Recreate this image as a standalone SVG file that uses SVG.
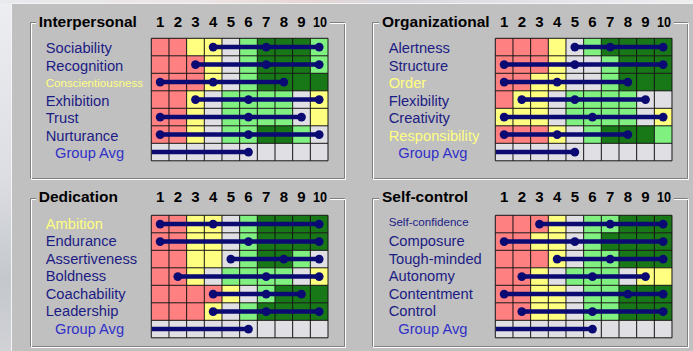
<svg xmlns="http://www.w3.org/2000/svg" width="693" height="351" viewBox="0 0 693 351">
<defs>
<linearGradient id="leftStrip" x1="0" y1="0" x2="0" y2="1">
<stop offset="0" stop-color="#eceef2"/>
<stop offset="0.5" stop-color="#dcdee3"/>
<stop offset="0.8" stop-color="#c4c7cc"/>
<stop offset="1" stop-color="#d0d2d6"/>
</linearGradient>
<linearGradient id="topStrip" x1="0" y1="0" x2="1" y2="0">
<stop offset="0" stop-color="#e8eaee"/>
<stop offset="0.3" stop-color="#ece4e4"/>
<stop offset="0.45" stop-color="#e6d6d6"/>
<stop offset="0.55" stop-color="#d8d8dc"/>
<stop offset="1" stop-color="#eceef0"/>
</linearGradient>
<path id="gridlines" d="M0,0V122.5M17.67,0V122.5M35.34,0V122.5M53.01,0V122.5M70.68,0V122.5M88.35,0V122.5M106.02,0V122.5M123.69,0V122.5M141.36,0V122.5M159.03,0V122.5M176.7,0V122.5M0,0H176.7M0,17.5H176.7M0,35H176.7M0,52.5H176.7M0,70H176.7M0,87.5H176.7M0,105H176.7M0,122.5H176.7"/>
<style>
.R{fill:#ff8080}.Y{fill:#ffff80}.G{fill:#e0e0e4}.L{fill:#80f080}.D{fill:#187818}
.grid{fill:none;stroke:#141414;stroke-width:1}
.etchd{fill:none;stroke:#808080;stroke-width:1}
.etchl{fill:none;stroke:#ffffff;stroke-width:1}
.title{font-family:"Liberation Sans",Arial,sans-serif;font-weight:bold;font-size:15.5px;fill:#000}
.num{font-family:"Liberation Sans",Arial,sans-serif;font-weight:bold;font-size:15px;fill:#000;text-anchor:middle}
.lbl{font-family:"Liberation Sans",Arial,sans-serif;font-size:14.7px;fill:#1c1c84}
.ylw{fill:#ffff80}
.small{font-size:11.6px}
.avg{fill:#3030c8}
.bar{fill:none;stroke:#0a0a72;stroke-width:4.5}
.dot{fill:#0a0a72}
</style>
</defs>

<!-- background -->
<rect x="0" y="0" width="693" height="351" fill="url(#leftStrip)"/>
<rect x="0" y="0" width="693" height="3.5" fill="url(#topStrip)"/>
<rect x="11" y="3" width="682" height="348" fill="#c0c0c0"/>
<path d="M11.5,351V3.5H693" fill="none" stroke="#f4f4f4" stroke-width="1"/>

<!-- Interpersonal panel -->
<g id="interpersonal">
<path class="etchd" d="M36,22.5H30.5V178.5H344.5V22.5H330"/>
<path class="etchl" d="M36,23.5H31.5V179.5H345.5V23.5H330"/>
<text class="title" x="38.7" y="26.7">Interpersonal</text>
<g>
<text class="num" x="160.1" y="26.7">1</text><text class="num" x="177.8" y="26.7">2</text><text class="num" x="195.5" y="26.7">3</text><text class="num" x="213.1" y="26.7">4</text><text class="num" x="230.8" y="26.7">5</text><text class="num" x="248.5" y="26.7">6</text><text class="num" x="266.1" y="26.7">7</text><text class="num" x="283.8" y="26.7">8</text><text class="num" x="301.5" y="26.7">9</text><text class="num" x="320" y="26.7" textLength="14" lengthAdjust="spacingAndGlyphs">10</text>
</g>
<text class="lbl" x="45.7" y="53.3">Sociability</text>
<text class="lbl" x="45.7" y="70.7">Recognition</text>
<text class="lbl ylw small" x="45.7" y="86.8">Conscientiousness</text>
<text class="lbl" x="45.7" y="105.5">Exhibition</text>
<text class="lbl" x="45.7" y="123">Trust</text>
<text class="lbl" x="45.7" y="140.5">Nurturance</text>
<text class="lbl avg" x="55" y="158">Group Avg</text>
<g transform="translate(151.3,38.3)">
<rect class="G" x="0" y="0" width="176.7" height="122.5"/>
<rect class="R" x="0" y="0" width="35.34" height="17.5"/><rect class="Y" x="35.34" y="0" width="35.34" height="17.5"/><rect class="L" x="88.35" y="0" width="17.67" height="17.5"/><rect class="D" x="106.02" y="0" width="53.01" height="17.5"/><rect class="L" x="159.03" y="0" width="17.67" height="17.5"/>
<rect class="R" x="0" y="17.5" width="53.01" height="17.5"/><rect class="Y" x="53.01" y="17.5" width="17.67" height="17.5"/><rect class="L" x="88.35" y="17.5" width="17.67" height="17.5"/><rect class="D" x="106.02" y="17.5" width="53.01" height="17.5"/><rect class="L" x="159.03" y="17.5" width="17.67" height="17.5"/>
<rect class="R" x="0" y="35" width="53.01" height="17.5"/><rect class="Y" x="53.01" y="35" width="17.67" height="17.5"/><rect class="L" x="88.35" y="35" width="17.67" height="17.5"/><rect class="D" x="106.02" y="35" width="70.68" height="17.5"/>
<rect class="R" x="0" y="52.5" width="35.34" height="17.5"/><rect class="Y" x="35.34" y="52.5" width="17.67" height="17.5"/><rect class="L" x="70.68" y="52.5" width="70.68" height="17.5"/><rect class="Y" x="159.03" y="52.5" width="17.67" height="17.5"/>
<rect class="R" x="0" y="70" width="35.34" height="17.5"/><rect class="Y" x="35.34" y="70" width="17.67" height="17.5"/><rect class="L" x="70.68" y="70" width="70.68" height="17.5"/><rect class="Y" x="159.03" y="70" width="17.67" height="17.5"/>
<rect class="R" x="0" y="87.5" width="35.34" height="17.5"/><rect class="Y" x="35.34" y="87.5" width="17.67" height="17.5"/><rect class="L" x="70.68" y="87.5" width="35.34" height="17.5"/><rect class="D" x="106.02" y="87.5" width="35.34" height="17.5"/><rect class="L" x="141.36" y="87.5" width="17.67" height="17.5"/>
<use href="#gridlines" class="grid"/>
</g>
</g>

<!-- Organizational panel -->
<g id="organizational">
<path class="etchd" d="M379,22.5H372.5V178.5H687.5V22.5H674"/>
<path class="etchl" d="M379,23.5H373.5V179.5H688.5V23.5H674"/>
<text class="title" x="382" y="26.7">Organizational</text>
<g>
<text class="num" x="504.1" y="26.7">1</text><text class="num" x="521.8" y="26.7">2</text><text class="num" x="539.5" y="26.7">3</text><text class="num" x="557.1" y="26.7">4</text><text class="num" x="574.8" y="26.7">5</text><text class="num" x="592.5" y="26.7">6</text><text class="num" x="610.1" y="26.7">7</text><text class="num" x="627.8" y="26.7">8</text><text class="num" x="645.5" y="26.7">9</text><text class="num" x="664" y="26.7" textLength="14" lengthAdjust="spacingAndGlyphs">10</text>
</g>
<text class="lbl" x="388.7" y="53.3">Alertness</text>
<text class="lbl" x="388.7" y="70.7">Structure</text>
<text class="lbl ylw" x="388.7" y="87.8">Order</text>
<text class="lbl" x="388.7" y="105.5">Flexibility</text>
<text class="lbl" x="388.7" y="123">Creativity</text>
<text class="lbl ylw" x="388.7" y="140.5">Responsibility</text>
<text class="lbl avg" x="398.3" y="158">Group Avg</text>
<g transform="translate(495.3,38.3)">
<rect class="G" x="0" y="0" width="176.7" height="122.5"/>
<rect class="R" x="0" y="0" width="53.01" height="17.5"/><rect class="Y" x="53.01" y="0" width="17.67" height="17.5"/><rect class="L" x="88.35" y="0" width="17.67" height="17.5"/><rect class="D" x="106.02" y="0" width="70.68" height="17.5"/>
<rect class="R" x="0" y="17.5" width="53.01" height="17.5"/><rect class="Y" x="53.01" y="17.5" width="17.67" height="17.5"/><rect class="L" x="106.02" y="17.5" width="17.67" height="17.5"/><rect class="D" x="123.69" y="17.5" width="53.01" height="17.5"/>
<rect class="R" x="0" y="35" width="35.34" height="17.5"/><rect class="Y" x="35.34" y="35" width="35.34" height="17.5"/><rect class="L" x="106.02" y="35" width="17.67" height="17.5"/><rect class="D" x="123.69" y="35" width="53.01" height="17.5"/>
<rect class="R" x="0" y="52.5" width="17.67" height="17.5"/><rect class="Y" x="17.67" y="52.5" width="35.34" height="17.5"/><rect class="L" x="70.68" y="52.5" width="70.68" height="17.5"/>
<rect class="Y" x="0" y="70" width="53.01" height="17.5"/><rect class="L" x="70.68" y="70" width="70.68" height="17.5"/><rect class="Y" x="159.03" y="70" width="17.67" height="17.5"/>
<rect class="R" x="0" y="87.5" width="53.01" height="17.5"/><rect class="Y" x="53.01" y="87.5" width="17.67" height="17.5"/><rect class="L" x="88.35" y="87.5" width="17.67" height="17.5"/><rect class="D" x="106.02" y="87.5" width="53.01" height="17.5"/><rect class="L" x="159.03" y="87.5" width="17.67" height="17.5"/>
<use href="#gridlines" class="grid"/>
</g>
</g>

<!-- Dedication panel -->
<g id="dedication">
<path class="etchd" d="M36,198.5H30.5V346.5H344.5V198.5H330"/>
<path class="etchl" d="M36,199.5H31.5V347.5H345.5V199.5H330"/>
<text class="title" x="38.7" y="202.3">Dedication</text>
<g>
<text class="num" x="160.1" y="202.3">1</text><text class="num" x="177.8" y="202.3">2</text><text class="num" x="195.5" y="202.3">3</text><text class="num" x="213.1" y="202.3">4</text><text class="num" x="230.8" y="202.3">5</text><text class="num" x="248.5" y="202.3">6</text><text class="num" x="266.1" y="202.3">7</text><text class="num" x="283.8" y="202.3">8</text><text class="num" x="301.5" y="202.3">9</text><text class="num" x="320" y="202.3" textLength="14" lengthAdjust="spacingAndGlyphs">10</text>
</g>
<text class="lbl ylw" x="45.7" y="228.5">Ambition</text>
<text class="lbl" x="45.7" y="246">Endurance</text>
<text class="lbl" x="45.7" y="263.5">Assertiveness</text>
<text class="lbl" x="45.7" y="281">Boldness</text>
<text class="lbl" x="45.7" y="298.5">Coachability</text>
<text class="lbl" x="45.7" y="316">Leadership</text>
<text class="lbl avg" x="55" y="333.5">Group Avg</text>
<g transform="translate(151.3,215.3)">
<rect class="G" x="0" y="0" width="176.7" height="122.5"/>
<rect class="R" x="0" y="0" width="35.34" height="17.5"/><rect class="Y" x="35.34" y="0" width="35.34" height="17.5"/><rect class="L" x="88.35" y="0" width="17.67" height="17.5"/><rect class="D" x="106.02" y="0" width="70.68" height="17.5"/>
<rect class="R" x="0" y="17.5" width="35.34" height="17.5"/><rect class="Y" x="35.34" y="17.5" width="35.34" height="17.5"/><rect class="L" x="88.35" y="17.5" width="17.67" height="17.5"/><rect class="D" x="106.02" y="17.5" width="70.68" height="17.5"/>
<rect class="R" x="0" y="35" width="35.34" height="17.5"/><rect class="Y" x="35.34" y="35" width="35.34" height="17.5"/><rect class="L" x="88.35" y="35" width="17.67" height="17.5"/><rect class="D" x="106.02" y="35" width="35.34" height="17.5"/><rect class="L" x="141.36" y="35" width="17.67" height="17.5"/>
<rect class="R" x="0" y="52.5" width="35.34" height="17.5"/><rect class="Y" x="35.34" y="52.5" width="17.67" height="17.5"/><rect class="L" x="70.68" y="52.5" width="70.68" height="17.5"/><rect class="Y" x="159.03" y="52.5" width="17.67" height="17.5"/>
<rect class="R" x="0" y="70" width="70.68" height="17.5"/><rect class="Y" x="70.68" y="70" width="17.67" height="17.5"/><rect class="L" x="106.02" y="70" width="17.67" height="17.5"/><rect class="D" x="123.69" y="70" width="53.01" height="17.5"/>
<rect class="R" x="0" y="87.5" width="53.01" height="17.5"/><rect class="Y" x="53.01" y="87.5" width="17.67" height="17.5"/><rect class="L" x="88.35" y="87.5" width="17.67" height="17.5"/><rect class="D" x="106.02" y="87.5" width="70.68" height="17.5"/>
<use href="#gridlines" class="grid"/>
</g>
</g>

<!-- Self-control panel -->
<g id="self-control">
<path class="etchd" d="M379,198.5H372.5V346.5H687.5V198.5H674"/>
<path class="etchl" d="M379,199.5H373.5V347.5H688.5V199.5H674"/>
<text class="title" x="382" y="202.3">Self-control</text>
<g>
<text class="num" x="504.1" y="202.3">1</text><text class="num" x="521.8" y="202.3">2</text><text class="num" x="539.5" y="202.3">3</text><text class="num" x="557.1" y="202.3">4</text><text class="num" x="574.8" y="202.3">5</text><text class="num" x="592.5" y="202.3">6</text><text class="num" x="610.1" y="202.3">7</text><text class="num" x="627.8" y="202.3">8</text><text class="num" x="645.5" y="202.3">9</text><text class="num" x="664" y="202.3" textLength="14" lengthAdjust="spacingAndGlyphs">10</text>
</g>
<text class="lbl small" x="388.7" y="226">Self-confidence</text>
<text class="lbl" x="388.7" y="246">Composure</text>
<text class="lbl" x="388.7" y="263.5">Tough-minded</text>
<text class="lbl" x="388.7" y="281">Autonomy</text>
<text class="lbl" x="388.7" y="298.5">Contentment</text>
<text class="lbl" x="388.7" y="316">Control</text>
<text class="lbl avg" x="398.3" y="333.5">Group Avg</text>
<g transform="translate(495.3,215.3)">
<rect class="G" x="0" y="0" width="176.7" height="122.5"/>
<rect class="R" x="0" y="0" width="53.01" height="17.5"/><rect class="Y" x="53.01" y="0" width="17.67" height="17.5"/><rect class="L" x="88.35" y="0" width="35.34" height="17.5"/><rect class="D" x="123.69" y="0" width="53.01" height="17.5"/>
<rect class="R" x="0" y="17.5" width="35.34" height="17.5"/><rect class="Y" x="35.34" y="17.5" width="35.34" height="17.5"/><rect class="L" x="88.35" y="17.5" width="17.67" height="17.5"/><rect class="D" x="106.02" y="17.5" width="70.68" height="17.5"/>
<rect class="R" x="0" y="35" width="53.01" height="17.5"/><rect class="Y" x="53.01" y="35" width="17.67" height="17.5"/><rect class="L" x="88.35" y="35" width="35.34" height="17.5"/><rect class="D" x="123.69" y="35" width="53.01" height="17.5"/>
<rect class="R" x="0" y="52.5" width="35.34" height="17.5"/><rect class="Y" x="35.34" y="52.5" width="17.67" height="17.5"/><rect class="L" x="70.68" y="52.5" width="53.01" height="17.5"/><rect class="Y" x="141.36" y="52.5" width="35.34" height="17.5"/>
<rect class="R" x="0" y="70" width="35.34" height="17.5"/><rect class="Y" x="35.34" y="70" width="35.34" height="17.5"/><rect class="L" x="88.35" y="70" width="35.34" height="17.5"/><rect class="D" x="123.69" y="70" width="53.01" height="17.5"/>
<rect class="R" x="0" y="87.5" width="35.34" height="17.5"/><rect class="Y" x="35.34" y="87.5" width="35.34" height="17.5"/><rect class="L" x="88.35" y="87.5" width="35.34" height="17.5"/><rect class="D" x="123.69" y="87.5" width="53.01" height="17.5"/>
<use href="#gridlines" class="grid"/>
</g>
</g>

<!-- score bars -->
<g id="connectors">
<g id="bars-interpersonal" transform="translate(151.3,38.3)">
<path class="bar" d="M61.85,8.75H167.87M44.18,26.25H167.87M8.84,43.75H132.53M44.18,61.25H167.87M8.84,78.75H150.2M8.84,96.25H167.87M0.5,113.75H97.19"/>
<g class="dot">
<circle cx="61.85" cy="8.75" r="4.4"/><circle cx="114.86" cy="8.75" r="4.4"/><circle cx="167.87" cy="8.75" r="4.4"/>
<circle cx="44.18" cy="26.25" r="4.4"/><circle cx="114.86" cy="26.25" r="4.4"/><circle cx="167.87" cy="26.25" r="4.4"/>
<circle cx="8.84" cy="43.75" r="4.4"/><circle cx="61.85" cy="43.75" r="4.4"/><circle cx="132.53" cy="43.75" r="4.4"/>
<circle cx="44.18" cy="61.25" r="4.4"/><circle cx="97.19" cy="61.25" r="4.4"/><circle cx="167.87" cy="61.25" r="4.4"/>
<circle cx="8.84" cy="78.75" r="4.4"/><circle cx="97.19" cy="78.75" r="4.4"/><circle cx="150.2" cy="78.75" r="4.4"/>
<circle cx="8.84" cy="96.25" r="4.4"/><circle cx="97.19" cy="96.25" r="4.4"/><circle cx="167.87" cy="96.25" r="4.4"/>
<circle cx="97.19" cy="113.75" r="4.4"/>
</g>
</g>
<g id="bars-organizational" transform="translate(495.3,38.3)">
<path class="bar" d="M79.52,8.75H167.87M8.84,26.25H167.87M8.84,43.75H132.53M26.51,61.25H150.2M8.84,78.75H167.87M8.84,96.25H132.53M0.5,113.75H79.52"/>
<g class="dot">
<circle cx="79.52" cy="8.75" r="4.4"/><circle cx="114.86" cy="8.75" r="4.4"/><circle cx="167.87" cy="8.75" r="4.4"/>
<circle cx="8.84" cy="26.25" r="4.4"/><circle cx="79.52" cy="26.25" r="4.4"/><circle cx="167.87" cy="26.25" r="4.4"/>
<circle cx="8.84" cy="43.75" r="4.4"/><circle cx="61.85" cy="43.75" r="4.4"/><circle cx="132.53" cy="43.75" r="4.4"/>
<circle cx="26.51" cy="61.25" r="4.4"/><circle cx="79.52" cy="61.25" r="4.4"/><circle cx="150.2" cy="61.25" r="4.4"/>
<circle cx="8.84" cy="78.75" r="4.4"/><circle cx="97.19" cy="78.75" r="4.4"/><circle cx="167.87" cy="78.75" r="4.4"/>
<circle cx="8.84" cy="96.25" r="4.4"/><circle cx="61.85" cy="96.25" r="4.4"/><circle cx="132.53" cy="96.25" r="4.4"/>
<circle cx="79.52" cy="113.75" r="4.4"/>
</g>
</g>
<g id="bars-dedication" transform="translate(151.3,215.3)">
<path class="bar" d="M8.84,8.75H167.87M8.84,26.25H167.87M79.52,43.75H167.87M26.51,61.25H167.87M61.85,78.75H150.2M61.85,96.25H167.87M0.5,113.75H97.19"/>
<g class="dot">
<circle cx="8.84" cy="8.75" r="4.4"/><circle cx="61.85" cy="8.75" r="4.4"/><circle cx="167.87" cy="8.75" r="4.4"/>
<circle cx="8.84" cy="26.25" r="4.4"/><circle cx="97.19" cy="26.25" r="4.4"/><circle cx="167.87" cy="26.25" r="4.4"/>
<circle cx="79.52" cy="43.75" r="4.4"/><circle cx="132.53" cy="43.75" r="4.4"/><circle cx="167.87" cy="43.75" r="4.4"/>
<circle cx="26.51" cy="61.25" r="4.4"/><circle cx="114.86" cy="61.25" r="4.4"/><circle cx="167.87" cy="61.25" r="4.4"/>
<circle cx="61.85" cy="78.75" r="4.4"/><circle cx="114.86" cy="78.75" r="4.4"/><circle cx="150.2" cy="78.75" r="4.4"/>
<circle cx="61.85" cy="96.25" r="4.4"/><circle cx="114.86" cy="96.25" r="4.4"/><circle cx="167.87" cy="96.25" r="4.4"/>
<circle cx="97.19" cy="113.75" r="4.4"/>
</g>
</g>
<g id="bars-self-control" transform="translate(495.3,215.3)">
<path class="bar" d="M44.18,8.75H167.87M8.84,26.25H167.87M61.85,43.75H167.87M26.51,61.25H150.2M8.84,78.75H167.87M26.51,96.25H167.87M0.5,113.75H97.19"/>
<g class="dot">
<circle cx="44.18" cy="8.75" r="4.4"/><circle cx="114.86" cy="8.75" r="4.4"/><circle cx="167.87" cy="8.75" r="4.4"/>
<circle cx="8.84" cy="26.25" r="4.4"/><circle cx="79.52" cy="26.25" r="4.4"/><circle cx="167.87" cy="26.25" r="4.4"/>
<circle cx="61.85" cy="43.75" r="4.4"/><circle cx="114.86" cy="43.75" r="4.4"/><circle cx="167.87" cy="43.75" r="4.4"/>
<circle cx="26.51" cy="61.25" r="4.4"/><circle cx="97.19" cy="61.25" r="4.4"/><circle cx="150.2" cy="61.25" r="4.4"/>
<circle cx="8.84" cy="78.75" r="4.4"/><circle cx="132.53" cy="78.75" r="4.4"/><circle cx="167.87" cy="78.75" r="4.4"/>
<circle cx="26.51" cy="96.25" r="4.4"/><circle cx="97.19" cy="96.25" r="4.4"/><circle cx="167.87" cy="96.25" r="4.4"/>
<circle cx="97.19" cy="113.75" r="4.4"/>
</g>
</g>
</g>
</svg>
